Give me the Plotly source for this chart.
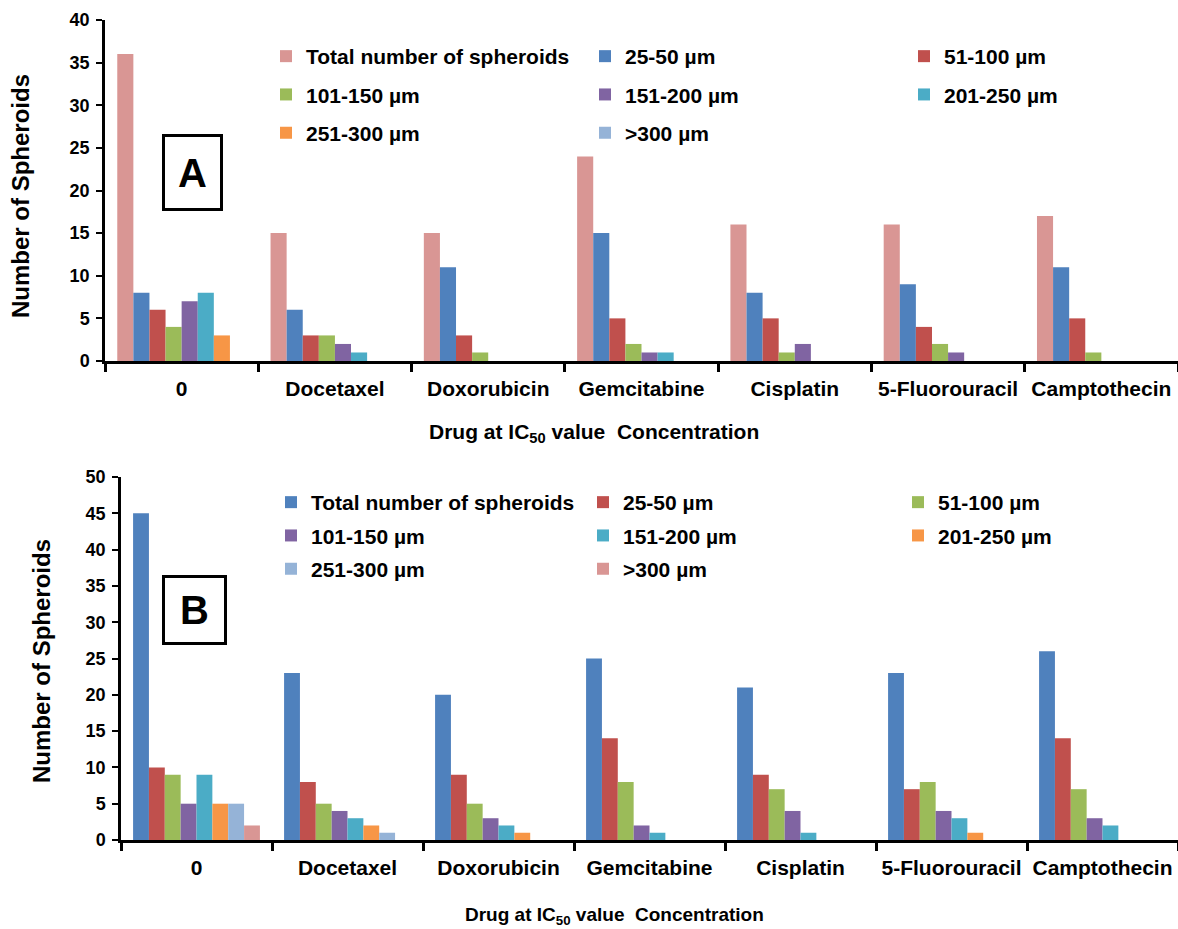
import plotly.graph_objects as go

W, H = 1178, 929

categories = ["0", "Docetaxel", "Doxorubicin", "Gemcitabine", "Cisplatin", "5-Fluorouracil", "Camptothecin"]
series_names = ["Total number of spheroids", "25-50 µm", "51-100 µm", "101-150 µm",
                "151-200 µm", "201-250 µm", "251-300 µm", ">300 µm"]

# Panel A values (per series, across categories)
a_total = [36, 15, 15, 24, 16, 16, 17]
a_25_50 = [8, 6, 11, 15, 8, 9, 11]
a_51_100 = [6, 3, 3, 5, 5, 4, 5]
a_101_150 = [4, 3, 1, 2, 1, 2, 1]
a_151_200 = [7, 2, 0, 1, 2, 1, 0]
a_201_250 = [8, 1, 0, 1, 0, 0, 0]
a_251_300 = [3, 0, 0, 0, 0, 0, 0]
a_gt300 = [0, 0, 0, 0, 0, 0, 0]

# Panel B values
b_total = [45, 23, 20, 25, 21, 23, 26]
b_25_50 = [10, 8, 9, 14, 9, 7, 14]
b_51_100 = [9, 5, 5, 8, 7, 8, 7]
b_101_150 = [5, 4, 3, 2, 4, 4, 3]
b_151_200 = [9, 3, 2, 1, 1, 3, 2]
b_201_250 = [5, 2, 1, 0, 0, 1, 0]
b_251_300 = [5, 1, 0, 0, 0, 0, 0]
b_gt300 = [2, 0, 0, 0, 0, 0, 0]

a_values = [a_total, a_25_50, a_51_100, a_101_150, a_151_200, a_201_250, a_251_300, a_gt300]
b_values = [b_total, b_25_50, b_51_100, b_101_150, b_151_200, b_201_250, b_251_300, b_gt300]

a_colors = ["#D99694", "#4F81BD", "#C0504D", "#9BBB59", "#8064A2", "#4BACC6", "#F79646", "#95B3D7"]
b_colors = ["#4F81BD", "#C0504D", "#9BBB59", "#8064A2", "#4BACC6", "#F79646", "#95B3D7", "#D99694"]

# legend column assignment (3 columns, row-major)
a_legends = ["legend", "legend2", "legend3"]
b_legends = ["legend4", "legend5", "legend6"]

fig = go.Figure()
for i, (name, vals) in enumerate(zip(series_names, a_values)):
    fig.add_trace(go.Bar(x=categories, y=vals, name=name, marker_color=a_colors[i],
                         marker_line_width=0, xaxis="x", yaxis="y",
                         legend=a_legends[i % 3], legendgroup="a%d" % i))
for i, (name, vals) in enumerate(zip(series_names, b_values)):
    fig.add_trace(go.Bar(x=categories, y=vals, name=name, marker_color=b_colors[i],
                         marker_line_width=0, xaxis="x2", yaxis="y2",
                         legend=b_legends[i % 3], legendgroup="b%d" % i))

def px_x(x):
    return x / W

def px_y(y):
    return 1 - y / H

FONT = "Arial, Liberation Sans, sans-serif"

xcommon = dict(type="category", showline=True, linecolor="black", linewidth=2.5,
               ticks="outside", tickson="boundaries", ticklen=8, tickwidth=2.5,
               tickcolor="black", showgrid=False, zeroline=False, automargin=False,
               ticklabelstandoff=7,
               tickfont=dict(size=21, color="black"), fixedrange=True)
ycommon = dict(showline=True, linecolor="black", linewidth=2.5, ticks="outside",
               ticklen=6, tickwidth=2, tickcolor="black", showgrid=False, automargin=False,
               ticklabelstandoff=3,
               zeroline=False, dtick=5, tickfont=dict(size=18, color="black"), fixedrange=True)

legend_common = dict(orientation="v", bgcolor="rgba(0,0,0,0)", font=dict(size=21, color="black"),
                     traceorder="grouped", xanchor="left", yanchor="top",
                     itemclick=False, itemdoubleclick=False)

fig.update_layout(
    width=W, height=H,
    margin=dict(l=0, r=0, t=0, b=0, autoexpand=False),
    paper_bgcolor="white", plot_bgcolor="white",
    font=dict(family=FONT, weight="bold", color="black"),
    barmode="group", bargap=0.16, bargroupgap=0,
    hovermode=False,
    xaxis=dict(domain=[px_x(105), 1.0], anchor="y", **xcommon),
    yaxis=dict(domain=[px_y(361), px_y(20)], range=[0, 40], anchor="x", **ycommon),
    xaxis2=dict(domain=[px_x(121), 1.0], anchor="y2", **xcommon),
    yaxis2=dict(domain=[px_y(840), px_y(477)], range=[0, 50], anchor="x2", **ycommon),
    legend=dict(x=px_x(266), y=px_y(36), tracegroupgap=8, **legend_common),
    legend2=dict(x=px_x(585), y=px_y(36), tracegroupgap=8, **legend_common),
    legend3=dict(x=px_x(904), y=px_y(36), tracegroupgap=8, **legend_common),
    legend4=dict(x=px_x(271), y=px_y(482), tracegroupgap=3, **legend_common),
    legend5=dict(x=px_x(583), y=px_y(482), tracegroupgap=3, **legend_common),
    legend6=dict(x=px_x(898), y=px_y(482), tracegroupgap=3, **legend_common),
    showlegend=True,
)

ann_common = dict(xref="paper", yref="paper", showarrow=False, xanchor="center", yanchor="middle")
annotations = [
    dict(text="A", x=px_x(192.5), y=px_y(172), font=dict(size=40, color="black"),
         bordercolor="black", borderwidth=3, borderpad=2, width=51, height=67,
         bgcolor="white", **ann_common),
    dict(text="B", x=px_x(194.5), y=px_y(610), font=dict(size=40, color="black"),
         bordercolor="black", borderwidth=3, borderpad=2, width=55, height=60,
         bgcolor="white", **ann_common),
    dict(text="Number of Spheroids", x=px_x(20), y=px_y(196), textangle=-90,
         font=dict(size=24, color="black"), **ann_common),
    dict(text="Number of Spheroids", x=px_x(41), y=px_y(661), textangle=-90,
         font=dict(size=24, color="black"), **ann_common),
    dict(text="Drug at IC<sub>50</sub> value  Concentration", x=px_x(594), y=px_y(433),
         font=dict(size=21, color="black"), **ann_common),
    dict(text="Drug at IC<sub>50</sub> value  Concentration", x=px_x(614), y=px_y(916),
         font=dict(size=19, color="black"), **ann_common),
]
fig.update_layout(annotations=annotations)

fig.write_html("out.html", config={"displayModeBar": False},
               post_script="document.body.style.margin='0px';")
